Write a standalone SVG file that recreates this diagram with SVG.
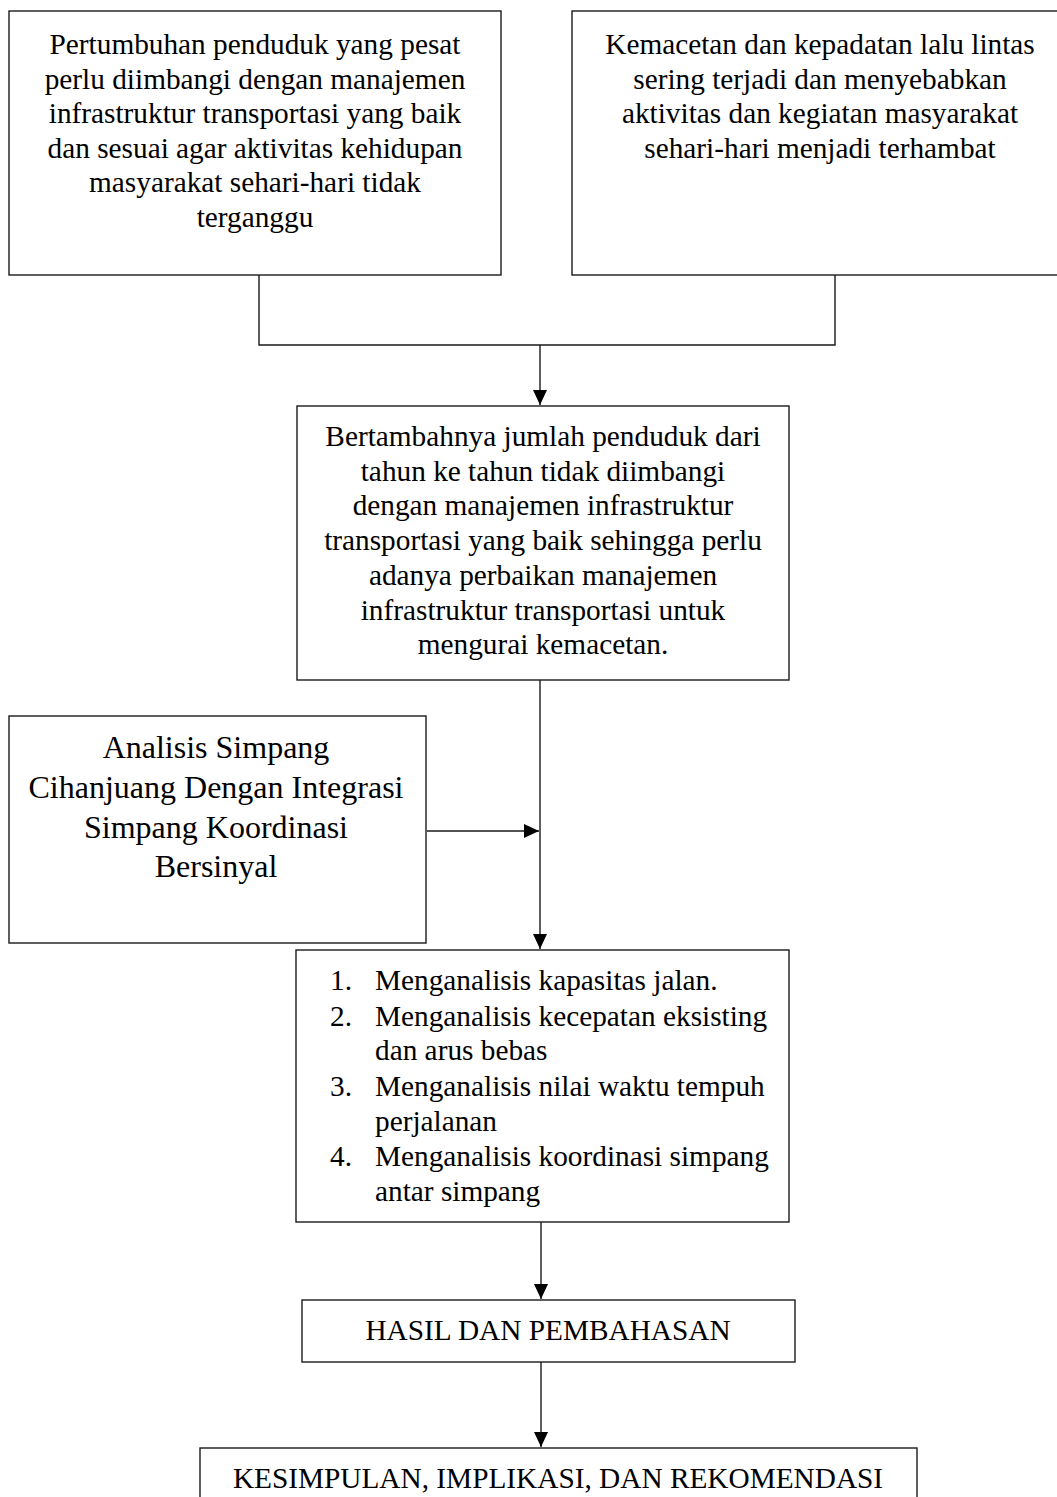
<svg xmlns="http://www.w3.org/2000/svg" width="1057" height="1497" viewBox="0 0 1057 1497">
<style>
.box{fill:#fff;stroke:#1a1a1a;stroke-width:1.4}
.t{font-family:"Liberation Serif","Times New Roman",serif;font-size:29.3px;fill:#000}
.c{text-anchor:middle}
.big{font-size:32px}
.con{fill:none;stroke:#1a1a1a;stroke-width:1.4}
</style>
<defs>
<marker id="ah" markerUnits="userSpaceOnUse" markerWidth="16" markerHeight="15" refX="15" refY="7" orient="auto">
<path d="M0,0 L15,7 L0,14 z" fill="#000"/>
</marker>
</defs>
<rect width="1057" height="1497" fill="#fff"/>
<g id="connectors">
<path class="con" d="M259,275 V345 H835 V275"/>
<path class="con" d="M540,345 V405" marker-end="url(#ah)"/>
<path class="con" d="M540,676 V949" marker-end="url(#ah)"/>
<path class="con" d="M427,831 H539" marker-end="url(#ah)"/>
<path class="con" d="M541,1222 V1299" marker-end="url(#ah)"/>
<path class="con" d="M541,1362 V1447" marker-end="url(#ah)"/>
</g>
<g id="node-pertumbuhan">
<rect class="box" x="9" y="11" width="492" height="264"/>
<text class="t c" x="255" y="54">Pertumbuhan penduduk yang pesat</text>
<text class="t c" x="255" y="89">perlu diimbangi dengan manajemen</text>
<text class="t c" x="255" y="123">infrastruktur transportasi yang baik</text>
<text class="t c" x="255" y="158">dan sesuai agar aktivitas kehidupan</text>
<text class="t c" x="255" y="192">masyarakat sehari-hari tidak</text>
<text class="t c" x="255" y="227">terganggu</text>
</g>
<g id="node-kemacetan">
<rect class="box" x="572" y="11" width="496" height="264"/>
<text class="t c" x="820" y="54">Kemacetan dan kepadatan lalu lintas</text>
<text class="t c" x="820" y="89">sering terjadi dan menyebabkan</text>
<text class="t c" x="820" y="123">aktivitas dan kegiatan masyarakat</text>
<text class="t c" x="820" y="158">sehari-hari menjadi terhambat</text>
</g>
<g id="node-bertambahnya">
<rect class="box" x="297" y="406" width="492" height="274"/>
<text class="t c" x="543" y="446">Bertambahnya jumlah penduduk dari</text>
<text class="t c" x="543" y="481">tahun ke tahun tidak diimbangi</text>
<text class="t c" x="543" y="515">dengan manajemen infrastruktur</text>
<text class="t c" x="543" y="550">transportasi yang baik sehingga perlu</text>
<text class="t c" x="543" y="585">adanya perbaikan manajemen</text>
<text class="t c" x="543" y="620">infrastruktur transportasi untuk</text>
<text class="t c" x="543" y="654">mengurai kemacetan.</text>
</g>
<g id="node-analisis">
<rect class="box" x="9" y="716" width="417" height="227"/>
<text class="t c big" x="216" y="758">Analisis Simpang</text>
<text class="t c big" x="216" y="798">Cihanjuang Dengan Integrasi</text>
<text class="t c big" x="216" y="838">Simpang Koordinasi</text>
<text class="t c big" x="216" y="877">Bersinyal</text>
</g>
<g id="node-tujuan">
<rect class="box" x="296" y="950" width="493" height="272"/>
<text class="t" x="330" y="990">1.</text>
<text class="t" x="375" y="990">Menganalisis kapasitas jalan.</text>
<text class="t" x="330" y="1026">2.</text>
<text class="t" x="375" y="1026">Menganalisis kecepatan eksisting</text>
<text class="t" x="375" y="1060">dan arus bebas</text>
<text class="t" x="330" y="1096">3.</text>
<text class="t" x="375" y="1096">Menganalisis nilai waktu tempuh</text>
<text class="t" x="375" y="1131">perjalanan</text>
<text class="t" x="330" y="1166">4.</text>
<text class="t" x="375" y="1166">Menganalisis koordinasi simpang</text>
<text class="t" x="375" y="1201">antar simpang</text>
</g>
<g id="node-hasil">
<rect class="box" x="302" y="1300" width="493" height="62"/>
<text class="t c" x="548" y="1340">HASIL DAN PEMBAHASAN</text>
</g>
<g id="node-kesimpulan">
<rect class="box" x="200" y="1448" width="717" height="70"/>
<text class="t c" x="558" y="1488">KESIMPULAN, IMPLIKASI, DAN REKOMENDASI</text>
</g>
</svg>
